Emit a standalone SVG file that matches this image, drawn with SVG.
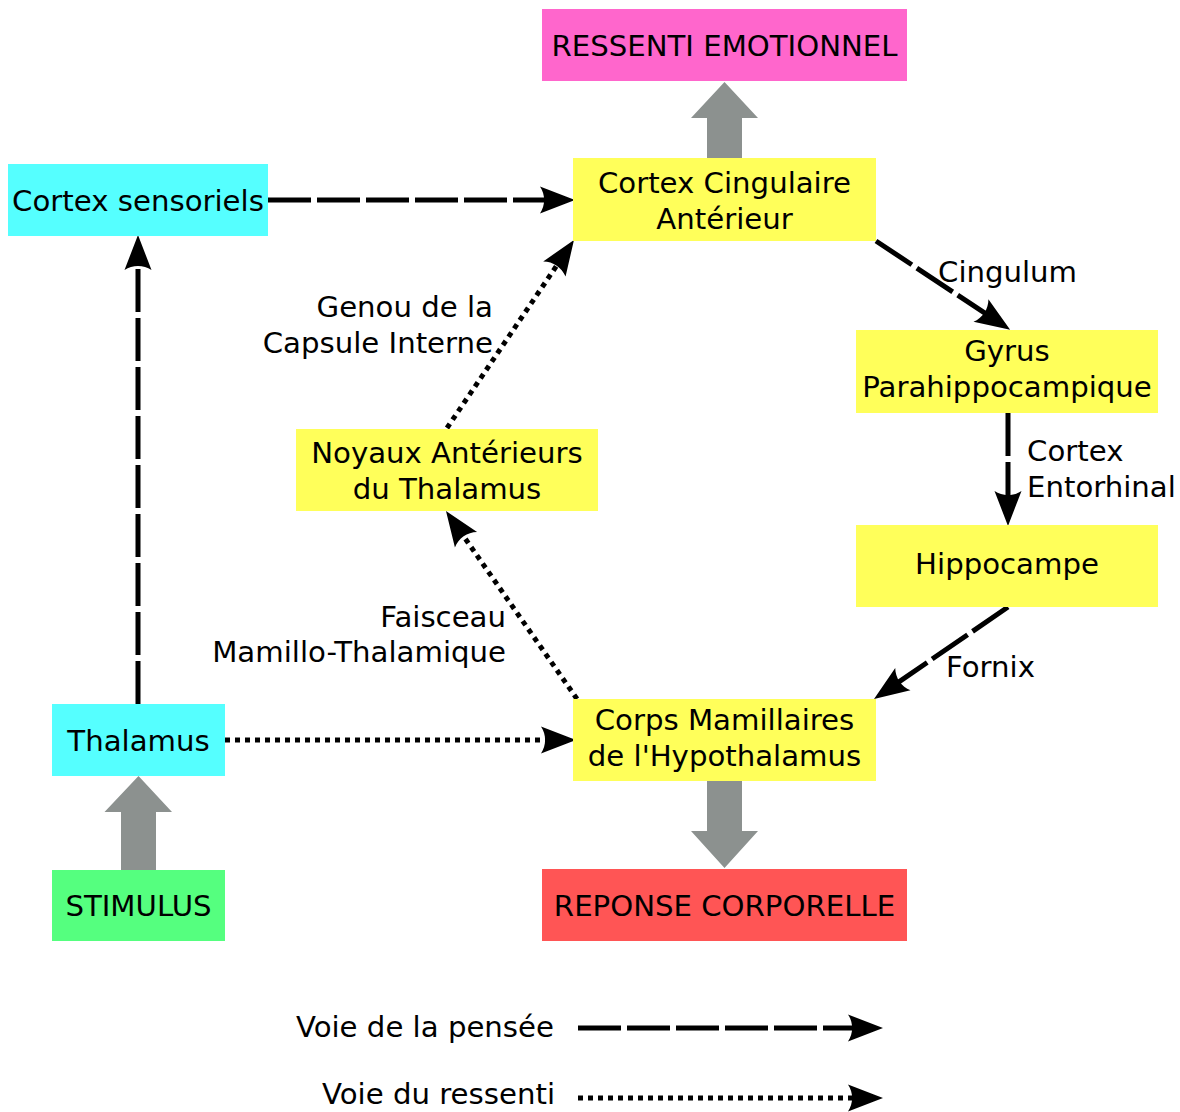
<svg xmlns="http://www.w3.org/2000/svg" width="1180" height="1112" viewBox="0 0 1180 1112">
  <style>
    text { font-family: "DejaVu Sans", "Liberation Sans", sans-serif; font-size: 29.2px; fill: #000; }
    .c { text-anchor: middle; }
    .e { text-anchor: end; }
    .pink { fill: #ff66cc; }
    .yellow { fill: #ffff5a; }
    .cyan { fill: #55ffff; }
    .green { fill: #55ff7f; }
    .red { fill: #ff5555; }
    .big { fill: #8c918f; }
    .dash { fill: none; stroke: #000; stroke-width: 5; stroke-dasharray: 43 6; marker-end: url(#ah); }
    .dot { fill: none; stroke: #000; stroke-width: 5; stroke-dasharray: 5 5; marker-end: url(#ah); }
  </style>
  <defs>
    <marker id="ah" markerUnits="userSpaceOnUse" orient="auto" refX="0" refY="0" markerWidth="40" markerHeight="30" overflow="visible">
      <path d="M28,0 L-7,-13.5 C-1.5,-5.5 -1.5,5.5 -7,13.5 Z" fill="#000"/>
    </marker>
  </defs>

  <rect width="1180" height="1112" fill="#fff"/>

  <g id="connectors">
    <path class="dash" d="M268,200 L547,200"/>
    <path class="dash" d="M138,704 L138,263"/>
    <path class="dash" d="M876,241 L986.8,314.4"/>
    <path class="dash" d="M1008,413 L1008,498"/>
    <path class="dash" d="M1008,607 L897.1,683.1"/>
    <path class="dot" d="M225,740 L548,740"/>
    <path class="dot" d="M577,699 L462,534"/>
    <path class="dot" d="M447,428 L558.3,263.2"/>
    <polygon class="big" points="707,158 707,118 691,118 724.5,82 758,118 742,118 742,158"/>
    <polygon class="big" points="707,781 707,831 691,831 724.5,868 758,831 742,831 742,781"/>
    <polygon class="big" points="121,870 121,812 104.5,812 138.5,776 172,812 156,812 156,870"/>
  </g>

  <g id="ressenti">
    <rect class="pink" x="542" y="9" width="365" height="72"/>
    <text class="c" x="724.5" y="56">RESSENTI EMOTIONNEL</text>
  </g>
  <g id="cca">
    <rect class="yellow" x="573" y="158" width="303" height="83"/>
    <text class="c" x="724.5" y="193">Cortex Cingulaire</text>
    <text class="c" x="724.5" y="229">Antérieur</text>
  </g>
  <g id="sensoriels">
    <rect class="cyan" x="8" y="164" width="260" height="72"/>
    <text class="c" x="138" y="211">Cortex sensoriels</text>
  </g>
  <g id="gyrus">
    <rect class="yellow" x="856" y="330" width="302" height="83"/>
    <text class="c" x="1007" y="361">Gyrus</text>
    <text class="c" x="1007" y="397">Parahippocampique</text>
  </g>
  <g id="hippocampe">
    <rect class="yellow" x="856" y="525" width="302" height="82"/>
    <text class="c" x="1007" y="574">Hippocampe</text>
  </g>
  <g id="noyaux">
    <rect class="yellow" x="296" y="429" width="302" height="82"/>
    <text class="c" x="447" y="463">Noyaux Antérieurs</text>
    <text class="c" x="447" y="499">du Thalamus</text>
  </g>
  <g id="corps">
    <rect class="yellow" x="573" y="699" width="303" height="82"/>
    <text class="c" x="724.5" y="730">Corps Mamillaires</text>
    <text class="c" x="724.5" y="766">de l'Hypothalamus</text>
  </g>
  <g id="thalamus">
    <rect class="cyan" x="52" y="704" width="173" height="72"/>
    <text class="c" x="138.5" y="751">Thalamus</text>
  </g>
  <g id="stimulus">
    <rect class="green" x="52" y="870" width="173" height="71"/>
    <text class="c" x="138.5" y="916">STIMULUS</text>
  </g>
  <g id="reponse">
    <rect class="red" x="542" y="869" width="365" height="72"/>
    <text class="c" x="724.5" y="916">REPONSE CORPORELLE</text>
  </g>

  <g id="labels">
    <text x="938" y="282">Cingulum</text>
    <text x="1027" y="461">Cortex</text>
    <text x="1027" y="497">Entorhinal</text>
    <text x="946" y="677">Fornix</text>
    <text class="e" x="493" y="317">Genou de la</text>
    <text class="e" x="493" y="353">Capsule Interne</text>
    <text class="e" x="506" y="627">Faisceau</text>
    <text class="e" x="506" y="662">Mamillo-Thalamique</text>
  </g>

  <g id="legend">
    <text class="e" x="554" y="1037">Voie de la pensée</text>
    <path class="dash" d="M578,1028 L855,1028"/>
    <text class="e" x="555" y="1104">Voie du ressenti</text>
    <path class="dot" d="M578,1098 L855,1098"/>
  </g>
</svg>
